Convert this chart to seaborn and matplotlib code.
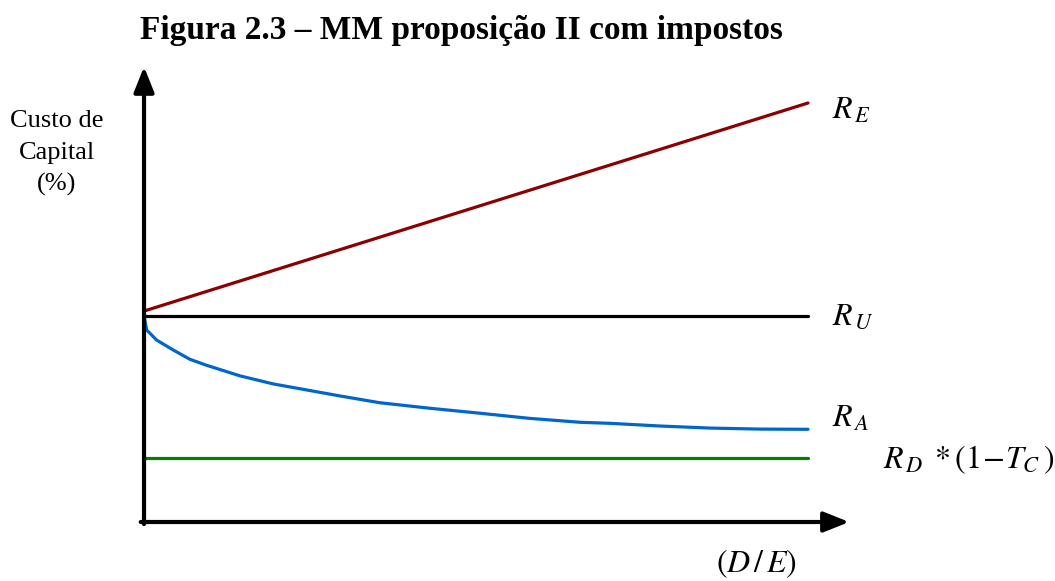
import numpy as np
import pandas as pd
import seaborn as sns
import matplotlib.pyplot as plt
from matplotlib.patches import ArrowStyle

# D/E ratio (x) and cost of capital (y)
de_ratio = [0, 10]
r_e = [10.24, 20.34]
r_u = [10.0, 10.0]
r_d = [3.11, 3.11]

ra_x = [0, 0.041, 0.19, 0.44, 0.69, 0.94, 1.45, 1.95, 2.45, 2.95, 3.55, 4.31,
        5.06, 5.81, 6.57, 7.02, 7.77, 8.52, 9.28, 10.0]
ra_y = [10.0, 9.32, 8.83, 8.35, 7.90, 7.61, 7.09, 6.70, 6.41, 6.12, 5.79, 5.52,
        5.28, 5.03, 4.84, 4.79, 4.66, 4.56, 4.51, 4.50]

sns.set_theme(style="white")
plt.rcParams['font.family'] = ['Liberation Serif', 'DejaVu Serif']
plt.rcParams['mathtext.fontset'] = 'stix'
plt.rcParams['text.color'] = 'black'

fig = plt.figure(figsize=(10.55, 5.81), dpi=100)
ax = fig.add_axes([0, 0, 1, 1])
ax.set_xlim(-2.169, 13.72)
ax.set_ylim(-2.864, 25.34)
ax.axis('off')

sns.lineplot(x=de_ratio, y=r_e, color='#8b0000', linewidth=2.3, ax=ax)
sns.lineplot(x=de_ratio, y=r_u, color='black', linewidth=2.3, ax=ax)
sns.lineplot(x=ra_x, y=ra_y, color='#0066cc', linewidth=2.3, ax=ax, sort=False)
sns.lineplot(x=de_ratio, y=r_d, color='#008000', linewidth=2.3, ax=ax)

# axes with arrows
head = ArrowStyle('-|>', head_length=0.55, head_width=0.22)
ax.annotate('', xy=(0, 22.1), xytext=(0, -0.1),
            arrowprops=dict(arrowstyle=head, color='black', lw=3, mutation_scale=28, shrinkA=0, shrinkB=0))
ax.annotate('', xy=(10.62, 0), xytext=(-0.05, 0),
            arrowprops=dict(arrowstyle=head, color='black', lw=3, mutation_scale=28, shrinkA=0, shrinkB=0))

ax.text(10.36, 19.56, r'$R_{\,E}$', fontsize=23, va='baseline', ha='left')
ax.text(10.36, 9.56, r'$R_{\,U}$', fontsize=23, va='baseline', ha='left')
ax.text(10.36, 4.61, r'$R_{\,A}$', fontsize=23, va='baseline', ha='left')
ax.text(11.13, 2.62, r'$R_{\,D}\;*(1\!-\!T_{C}\,)$', fontsize=23, va='baseline', ha='left')
ax.text(9.23, -2.42, r'$(D\,/\,E)$', fontsize=23, va='baseline', ha='center')

ax.text(-1.31, 17.9, 'Custo de\nCapital\n(%)', fontsize=19, ha='center', va='center', linespacing=1.55)

fig.text(0.437, 0.948, 'Figura 2.3 – MM proposição II com impostos', fontsize=24,
         fontweight='bold', ha='center', va='center')

fig.savefig('out.png', dpi=100)
